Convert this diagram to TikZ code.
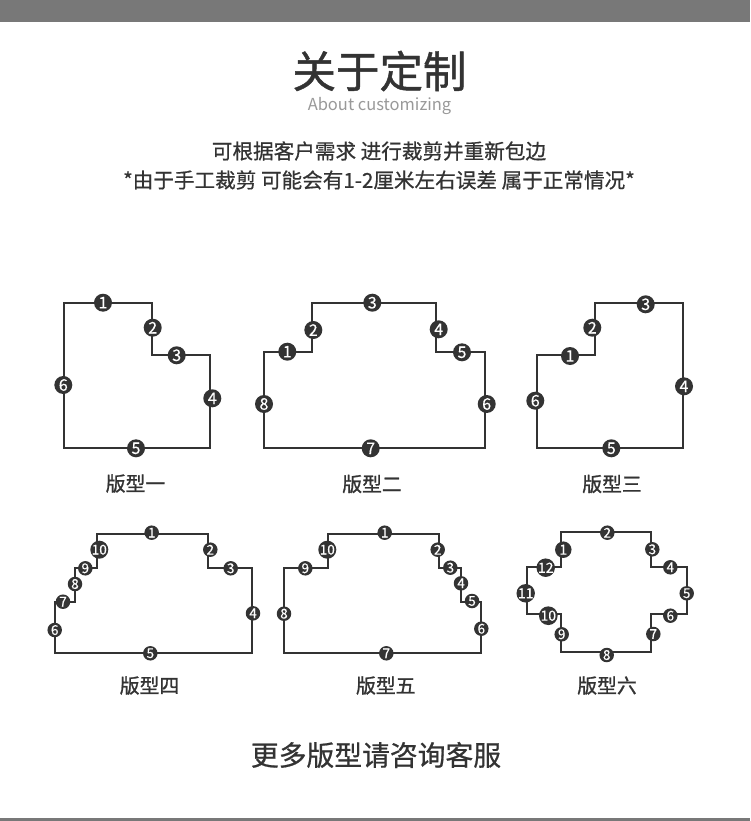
\documentclass[tikz,border=0pt]{standalone}
\usepackage{fontspec}
\setmainfont{Noto Sans CJK SC}
\newfontfamily\hvyf[FakeBold=1.1]{Noto Sans CJK SC}
\newfontfamily\medf[FakeBold=0.7]{Noto Sans CJK SC}
\newfontfamily\semf[FakeBold=0.3]{Noto Sans CJK SC}
\usetikzlibrary{positioning,calc,backgrounds}
\definecolor{ink}{HTML}{333333}
\definecolor{bar}{HTML}{787878}
\newcommand{\px}[1]{\fontsize{#1}{#1}\selectfont}
\tikzset{
  edg/.style ={draw=ink, line width=2.1pt, line join=miter},
  bdg/.style ={circle, fill=ink, text=white, minimum size=18pt, inner sep=0pt, font=\semf\px{16}},
  bdm/.style ={circle, fill=ink, text=white, minimum size=16.5pt, inner sep=0pt, font=\semf\px{14}},
  bds/.style ={circle, fill=ink, text=white, minimum size=14.5pt, inner sep=0pt, font=\semf\px{13.5}},
  lbl/.style ={inner sep=0pt, text=ink, font=\hvyf\px{19.8}},
  txt/.style ={inner sep=0pt, text=ink, font=\medf\px{20.6}},
  bnd/.style ={fill=bar, draw=none},
}
\begin{document}
\begin{tikzpicture}[x=1pt,y=-1pt]
\useasboundingbox (0,0) rectangle (750,821);
%% ---------- bars and header ----------
\fill[white] (0,0) rectangle (750,821);
\fill[bnd] (0,0) rectangle (750,22.5);
\fill[bnd] (0,817.7) rectangle (750,821);
\node[inner sep=0pt, text=ink, font=\hvyf\px{43.5}] (title) at (379.5,71) {关于定制};
\node[inner sep=0pt, text=black!40, font=\px{16.5}] (sub) at (379.5,106) {About customizing};
\node[txt] (line1) at (379,151) {可根据客户需求 进行裁剪并重新包边};
\node[txt] (line2) at (379,180) {*由于手工裁剪 可能会有1-2厘米左右误差 属于正常情况*};
%% ---------- first row ----------
% outline one
\draw[edg] (64,303.3) -- (152,303.3) -- (152,355) -- (210,355) -- (210,447.7) -- (64,447.7) -- cycle;
\node[bdg] (a1) at (103,302.7) {1};
\node[bdg] (a2) at (152.7,327.7) {2};
\node[bdg] (a3) at (176.7,355.3) {3};
\node[bdg] (a4) at (212.3,398.3) {4};
\node[bdg] (a5) at (136,448.3) {5};
\node[bdg] (a6) at (63.3,385) {6};
\node[lbl] (alab) at (135.5,483.5) {版型一};
% outline two
\draw[edg] (264,352.3) -- (312,352.3) -- (312,303.3) -- (436,303.3) -- (436,352.3) -- (485,352.3) -- (485,447.7) -- (264,447.7) -- cycle;
\node[bdg] (b1) at (287.3,351.7) {1};
\node[bdg] (b2) at (313.3,330) {2};
\node[bdg] (b3) at (372.3,302.7) {3};
\node[bdg] (b4) at (438.7,329.3) {4};
\node[bdg] (b5) at (462,352.3) {5};
\node[bdg] (b6) at (486.7,404) {6};
\node[bdg] (b7) at (370.7,448.3) {7};
\node[bdg] (b8) at (264,404) {8};
\node[lbl] (blab) at (372,484) {版型二};
% outline three
\draw[edg] (537,355) -- (594.7,355) -- (594.7,303.3) -- (683.3,303.3) -- (683.3,447.7) -- (537,447.7) -- cycle;
\node[bdg] (c1) at (570,356) {1};
\node[bdg] (c2) at (592.3,327.7) {2};
\node[bdg] (c3) at (645.7,304.3) {3};
\node[bdg] (c4) at (684,386.3) {4};
\node[bdg] (c5) at (611.3,448.3) {5};
\node[bdg] (c6) at (535.3,400.7) {6};
\node[lbl] (clab) at (612,484) {版型三};
%% ---------- second row ----------
% outline four
\draw[edg] (96.7,534.3) -- (208.3,534.3) -- (208.3,567.7) -- (252.3,567.7) -- (252.3,653.3) -- (55.3,653.3) -- (55.3,601.7) -- (75,601.7) -- (75,568.3) -- (96.7,568.3) -- cycle;
\node[bds] (d1) at (151.7,532.7) {1};
\node[bds] (d2) at (210.3,549.7) {2};
\node[bds] (d3) at (230.7,568.3) {3};
\node[bds] (d4) at (253,613.3) {4};
\node[bds] (d5) at (150.3,653.3) {5};
\node[bds] (d6) at (54.7,630) {6};
\node[bds] (d7) at (63,601.7) {7};
\node[bds] (d8) at (75,584) {8};
\node[bds] (d9) at (85.3,568.3) {9};
\node[bds] (d10) at (99.3,549.7) {10};
\node[lbl] (dlab) at (149.5,685.5) {版型四};
% outline five
\draw[edg] (327.8,534.3) -- (439,534.3) -- (439,567.7) -- (461,567.7) -- (461,601.7) -- (480.7,601.7) -- (480.7,653.3) -- (284,653.3) -- (284,568.3) -- (327.8,568.3) -- cycle;
\node[bds] (e1) at (384.7,532.7) {1};
\node[bds] (e2) at (437.7,549.7) {2};
\node[bds] (e3) at (450.3,567.7) {3};
\node[bds] (e4) at (461,583.3) {4};
\node[bds] (e5) at (472,601) {5};
\node[bds] (e6) at (481.3,628.7) {6};
\node[bds] (e7) at (386.3,653.3) {7};
\node[bds] (e8) at (284,613.7) {8};
\node[bds] (e9) at (305.3,568.3) {9};
\node[bds] (e10) at (327.3,549.7) {10};
\node[lbl] (elab) at (385.8,685.5) {版型五};
% outline six
\draw[edg] (561.3,532.3) -- (651,532.3) -- (651,567.3) -- (686.7,567.3) -- (686.7,614.3) -- (651,614.3) -- (651,651.7) -- (561.3,651.7) -- (561.3,614.3) -- (527.3,614.3) -- (527.3,567.3) -- (561.3,567.3) -- cycle;
\node[bdm] (f1) at (563.3,549.7) {1};
\node[bds] (f2) at (607.3,532.7) {2};
\node[bds] (f3) at (652.3,549.3) {3};
\node[bds] (f4) at (670.3,567.3) {4};
\node[bds] (f5) at (686.7,593.3) {5};
\node[bds] (f6) at (670.3,615.7) {6};
\node[bds] (f7) at (653.3,634) {7};
\node[bds] (f8) at (606.7,655) {8};
\node[bds] (f9) at (561.7,634.3) {9};
\node[bdm] (f10) at (548.3,615.7) {10};
\node[bdm] (f11) at (525.7,593.3) {11};
\node[bdm] (f12) at (545.7,567.7) {12};
\node[lbl] (flab) at (607,685.5) {版型六};
%% ---------- footer ----------
\node[inner sep=0pt, text=ink, font=\medf\px{27.8}] (more) at (376,755) {更多版型请咨询客服};
\end{tikzpicture}
\end{document}
